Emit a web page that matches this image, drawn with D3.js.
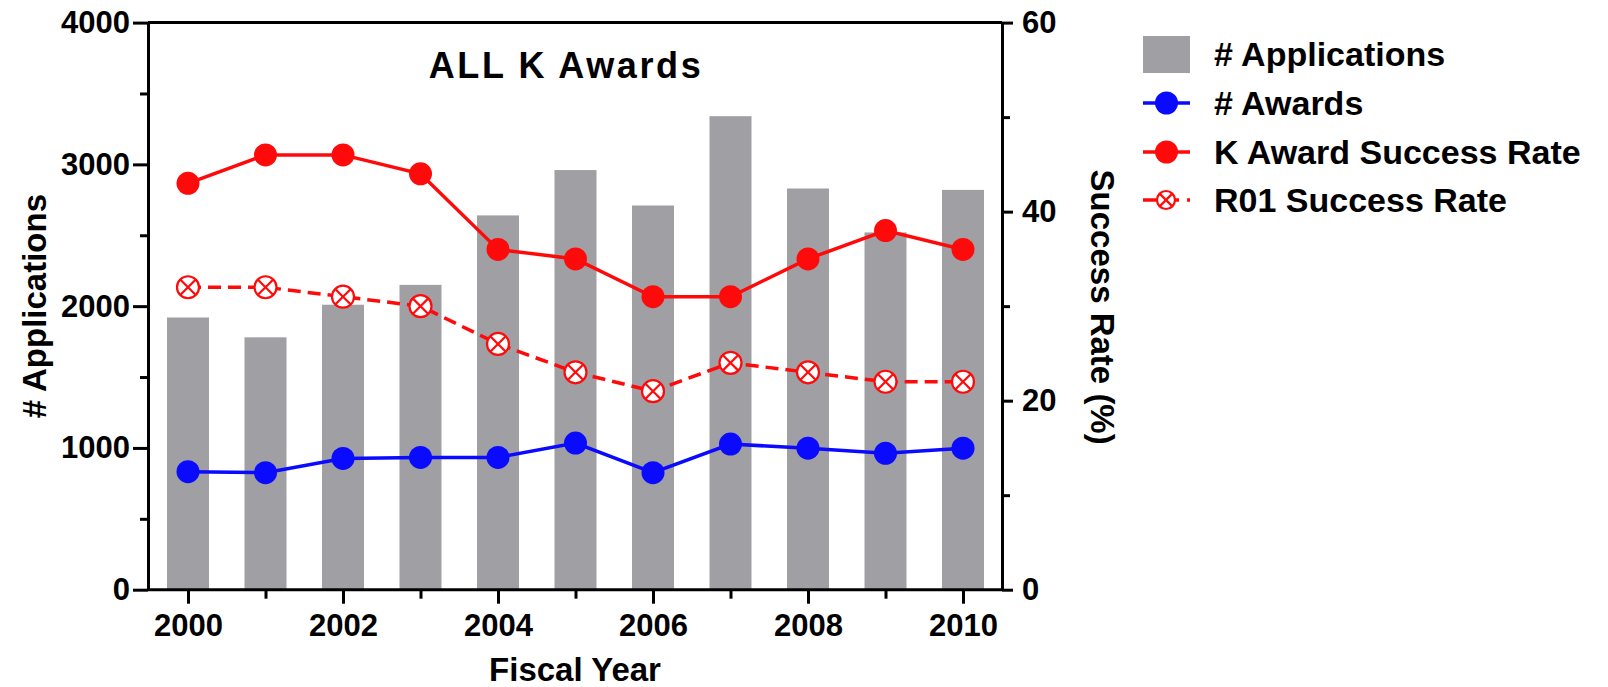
<!DOCTYPE html>
<html>
<head>
<meta charset="utf-8">
<script src="https://cdn.jsdelivr.net/npm/d3@7"></script>
<style>
  html, body { margin: 0; padding: 0; background: #fff; }
  svg { display: block; }
  text { font-family: "Liberation Sans", Arial, Helvetica, sans-serif; font-weight: bold; fill: #000; }
</style>
</head>
<body>
<svg id="chart" width="1608" height="687"></svg>
<script>
// ---- Data ----
const years = [2000, 2001, 2002, 2003, 2004, 2005, 2006, 2007, 2008, 2009, 2010];
const applications = [1920, 1780, 2010, 2150, 2640, 2960, 2710, 3340, 2830, 2520, 2820];
const awards = [832, 825, 926, 933, 933, 1034, 825, 1027, 998, 962, 998];
const kAwardRate = [43, 46, 46, 44, 36, 35, 31, 31, 35, 38, 36];
const r01Rate = [32, 32, 31, 30, 26, 23, 21, 24, 23, 22, 22];
const leftTicks = [0, 1000, 2000, 3000, 4000];
const leftMinorTicks = [500, 1500, 2500, 3500];
const rightTicks = [0, 20, 40, 60];
const rightMinorTicks = [10, 30, 50];
const xMajorTicks = [2000, 2002, 2004, 2006, 2008, 2010];
const xMinorTicks = [2001, 2003, 2005, 2007, 2009];
const legendLabels = ["# Applications", "# Awards", "K Award Success Rate", "R01 Success Rate"];
const titleText = "ALL K Awards";

// ---- Layout ----
const plotLeft = 148, plotRight = 1002, plotTop = 22.6, plotBottom = 589.7;
const barColor = "#a09fa4", blue = "#0a0aff", red = "#ff0a0a";

const svg = d3.select("#chart");
const x = d3.scaleLinear().domain([2000, 2010]).range([188, 963]);
const yL = d3.scaleLinear().domain([0, 4000]).range([plotBottom, plotTop]);
const yR = d3.scaleLinear().domain([0, 60]).range([plotBottom, plotTop]);
const barW = 42;

// Bars
svg.append("g").selectAll("rect").data(years).join("rect")
  .attr("x", (d) => x(d) - barW / 2)
  .attr("width", barW)
  .attr("y", (d, i) => yL(applications[i]))
  .attr("height", (d, i) => yL(0) - yL(applications[i]))
  .attr("fill", barColor);

// Frame line (top)
svg.append("line").attr("x1", plotLeft).attr("x2", plotRight)
  .attr("y1", plotTop).attr("y2", plotTop)
  .attr("stroke", "#000").attr("stroke-width", 3);

function styleAxis(g) {
  g.selectAll("path.domain").attr("stroke", "#000").attr("stroke-width", 3);
  g.selectAll(".tick line").attr("stroke", "#000").attr("stroke-width", 3);
  g.selectAll(".tick text").style("font-family", '"Liberation Sans", Arial, sans-serif')
    .style("font-weight", "bold").attr("fill", "#000").style("font-size", "31px");
}

// Left axis
const gL = svg.append("g").attr("transform", `translate(${plotLeft},0)`)
  .call(d3.axisLeft(yL).tickValues(leftTicks).tickSize(15).tickSizeOuter(0).tickPadding(3).tickFormat(d3.format("d")));
styleAxis(gL);
const gLm = svg.append("g").attr("transform", `translate(${plotLeft},0)`)
  .call(d3.axisLeft(yL).tickValues(leftMinorTicks).tickSize(8).tickFormat(""));
gLm.select("path.domain").remove();
styleAxis(gLm);

// Right axis
const gR = svg.append("g").attr("transform", `translate(${plotRight},0)`)
  .call(d3.axisRight(yR).tickValues(rightTicks).tickSize(11).tickSizeOuter(0).tickPadding(9));
styleAxis(gR);
const gRm = svg.append("g").attr("transform", `translate(${plotRight},0)`)
  .call(d3.axisRight(yR).tickValues(rightMinorTicks).tickSize(8).tickFormat(""));
gRm.select("path.domain").remove();
styleAxis(gRm);

// Bottom axis
const gB = svg.append("g").attr("transform", `translate(0,${plotBottom})`)
  .call(d3.axisBottom(x).tickValues(xMajorTicks).tickSize(14).tickSizeOuter(0).tickPadding(10).tickFormat(d3.format("d")));
gB.select("path.domain").attr("d", `M${plotLeft},0H${plotRight}`);
styleAxis(gB);
const gBm = svg.append("g").attr("transform", `translate(0,${plotBottom})`)
  .call(d3.axisBottom(x).tickValues(xMinorTicks).tickSize(9).tickFormat(""));
gBm.select("path.domain").remove();
styleAxis(gBm);

// Lines
const lineR01 = d3.line().x((d, i) => x(years[i])).y((d) => yR(d));
const lineK = d3.line().x((d, i) => x(years[i])).y((d) => yR(d));
const lineAw = d3.line().x((d, i) => x(years[i])).y((d) => yL(d));

svg.append("path").datum(r01Rate).attr("d", lineR01)
  .attr("fill", "none").attr("stroke", red).attr("stroke-width", 3.5).attr("stroke-dasharray", "13,7");
svg.append("path").datum(kAwardRate).attr("d", lineK)
  .attr("fill", "none").attr("stroke", red).attr("stroke-width", 3.5);
svg.append("path").datum(awards).attr("d", lineAw)
  .attr("fill", "none").attr("stroke", blue).attr("stroke-width", 3.5);

function crossMarker(g, cx, cy, r) {
  g.append("circle").attr("cx", cx).attr("cy", cy).attr("r", r)
    .attr("fill", "#fff").attr("stroke", red).attr("stroke-width", 2.2);
  const k = r * 0.7071;
  g.append("line").attr("x1", cx - k).attr("y1", cy - k).attr("x2", cx + k).attr("y2", cy + k)
    .attr("stroke", red).attr("stroke-width", 2.2);
  g.append("line").attr("x1", cx - k).attr("y1", cy + k).attr("x2", cx + k).attr("y2", cy - k)
    .attr("stroke", red).attr("stroke-width", 2.2);
}

const gR01 = svg.append("g");
r01Rate.forEach((v, i) => crossMarker(gR01, x(years[i]), yR(v), 11));

svg.append("g").selectAll("circle").data(kAwardRate).join("circle")
  .attr("cx", (d, i) => x(years[i])).attr("cy", (d) => yR(d)).attr("r", 11.5).attr("fill", red);
svg.append("g").selectAll("circle").data(awards).join("circle")
  .attr("cx", (d, i) => x(years[i])).attr("cy", (d) => yL(d)).attr("r", 11.5).attr("fill", blue);

// Title
svg.append("text").attr("x", 566).attr("y", 78).attr("text-anchor", "middle")
  .style("font-size", "36px").style("letter-spacing", "2.6px").text(titleText);

// Axis titles
svg.append("text").attr("transform", `translate(46,${(plotTop + plotBottom) / 2}) rotate(-90)`)
  .attr("text-anchor", "middle").style("font-size", "33px").text("# Applications");
svg.append("text").attr("transform", `translate(1091,${(plotTop + plotBottom) / 2 + 1}) rotate(90)`)
  .attr("text-anchor", "middle").style("font-size", "33px").text("Success Rate (%)");
svg.append("text").attr("x", (plotLeft + plotRight) / 2).attr("y", 681).attr("text-anchor", "middle")
  .style("font-size", "33px").text("Fiscal Year");

// Legend
const lg = svg.append("g");
const lx0 = 1143, lx1 = 1190, rowY = [54, 103, 152, 200], textX = 1214;
lg.append("rect").attr("x", lx0).attr("y", rowY[0] - 18).attr("width", lx1 - lx0).attr("height", 37).attr("fill", barColor);
lg.append("line").attr("x1", lx0).attr("x2", lx1).attr("y1", rowY[1]).attr("y2", rowY[1]).attr("stroke", blue).attr("stroke-width", 3.5);
lg.append("circle").attr("cx", (lx0 + lx1) / 2).attr("cy", rowY[1]).attr("r", 11.5).attr("fill", blue);
lg.append("line").attr("x1", lx0).attr("x2", lx1).attr("y1", rowY[2]).attr("y2", rowY[2]).attr("stroke", red).attr("stroke-width", 3.5);
lg.append("circle").attr("cx", (lx0 + lx1) / 2).attr("cy", rowY[2]).attr("r", 11.5).attr("fill", red);
lg.append("line").attr("x1", lx0).attr("x2", lx1).attr("y1", rowY[3]).attr("y2", rowY[3]).attr("stroke", red).attr("stroke-width", 3.5).attr("stroke-dasharray", "14,8");
crossMarker(lg, 1166, rowY[3], 9);
lg.selectAll("text.leg").data(legendLabels).join("text").attr("class", "leg")
  .attr("x", textX).attr("y", (d, i) => rowY[i] + 12).style("font-size", "34px").text((d) => d);
</script>
</body>
</html>
